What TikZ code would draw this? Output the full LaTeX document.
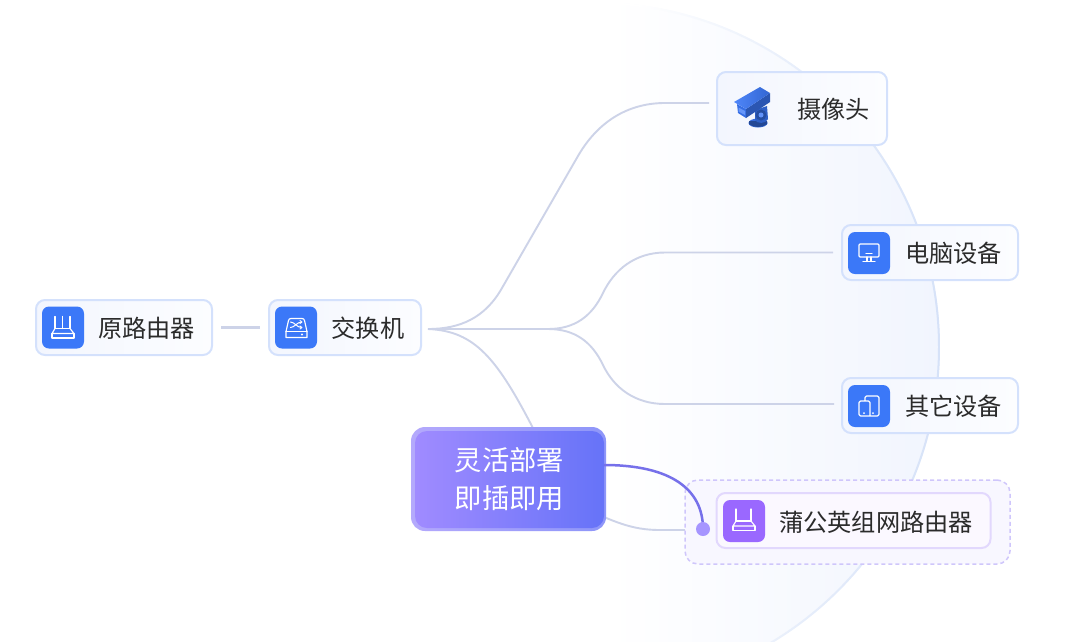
\documentclass[tikz,border=0pt]{standalone}
\usepackage{fontspec}
\setmainfont{Noto Sans CJK SC}
\definecolor{bgend}{HTML}{F1F5FE}
\definecolor{ringc}{HTML}{D6E2F8}
\definecolor{boxl}{HTML}{F3F6FE}
\definecolor{boxr}{HTML}{FCFDFF}
\definecolor{boxb}{HTML}{D4E1FC}
\definecolor{iconblue}{HTML}{3B78F8}
\definecolor{iconpurple}{HTML}{9A68FF}
\definecolor{linec}{HTML}{CDD3E8}
\definecolor{txt}{HTML}{2B2B2B}
\definecolor{gl}{HTML}{A08BFF}
\definecolor{gr}{HTML}{6673F8}
\definecolor{gb}{HTML}{B4A9FC}
\definecolor{gbr}{HTML}{8E96F9}
\definecolor{purpline}{HTML}{7670EA}
\definecolor{dotc}{HTML}{A695FF}
\definecolor{dashc}{HTML}{CFC6FB}
\definecolor{dashf}{HTML}{F8F7FF}
\definecolor{pbb}{HTML}{E2D8FD}
\definecolor{pbf}{HTML}{FBF8FF}
\pgfdeclarehorizontalshading{discshade}{100bp}{color(0bp)=(white); color(25bp)=(white); color(51bp)=(white); color(75bp)=(bgend); color(100bp)=(bgend)}
\pgfdeclarehorizontalshading{ringshade}{100bp}{color(0bp)=(white); color(25bp)=(white); color(53bp)=(white); color(64bp)=(ringc!55!white); color(75bp)=(ringc); color(100bp)=(ringc)}
\tikzset{
  devbox/.style={rounded corners=9pt,draw=boxb,line width=2pt,left color=boxl,right color=boxr,inner sep=0pt},
  iconbox/.style={rounded corners=7pt,inner sep=0pt,minimum width=42pt,minimum height=42pt},
  lbl/.style={inner sep=0pt,text=txt,font=\fontsize{24.2}{30}\selectfont},
  conn/.style={draw=linec,line width=1.9pt},
  ic/.style={draw=white,line width=1.15pt,line join=round,line cap=round},
}
\newcommand{\routericon}[2]{%
  \begin{scope}[shift={(#1,#2)}]
    \draw[ic] (-8,-11) -- (-8,1) -- (7,1) -- (7,-11);
    \draw[ic] (-8,1) -- (-11,6) -- (11,6) -- (7,1);
    \draw[ic] (-11,6) -- (-11,10.5) -- (11,10.5) -- (11,6);
  \end{scope}}
\begin{document}
\begin{tikzpicture}[x=1pt,y=-1pt]
\useasboundingbox (0,0) rectangle (1080,641);
\coordinate (bgc) at (595,347);
% background disc
\begin{scope}
  \clip (0,0) rectangle (1080,641);
  \clip (bgc) circle (345);
  \shade[shading=discshade] (250,0) rectangle (940,700);
  \begin{scope}[even odd rule]
    \clip (bgc) circle (345) (bgc) circle (343);
    \shade[shading=ringshade] (250,0) rectangle (940,700);
  \end{scope}
\end{scope}
% named points
\coordinate (hub) at (428,329);
\coordinate (fork) at (548,329);
\coordinate (camin) at (709,103);
\coordinate (otherin) at (834,404);
\coordinate (flexout) at (604,465);
\coordinate (flexlow) at (604,517);
\coordinate (grpin) at (685,530);
\coordinate (dotpt) at (703,529);
% nodes
\node[devbox,minimum width=176pt,minimum height=55pt] (router) at (124,327.5) {};
\node[devbox,minimum width=152pt,minimum height=55pt] (sw) at (345,327.5) {};
\node[devbox,minimum width=170pt,minimum height=73pt] (cam) at (802,108.5) {};
\node[devbox,minimum width=176pt,minimum height=55pt] (pc) at (930,252.5) {};
\node[devbox,minimum width=176pt,minimum height=55pt] (other) at (930,405.5) {};
% connectors
\draw[conn,line width=2.3pt,shorten <=8pt,shorten >=8pt] (router.east) -- (sw.west);
\draw[conn] (hub) .. controls (460,329) and (485,318) .. (502,288) -- (578,156) .. controls (600,118) and (632,103) .. (665,103) -- (camin);
\draw[conn] (hub) -- (fork);
\draw[conn,shorten >=8pt] (fork) .. controls (575,329) and (592,316) .. (603,293) .. controls (614,270) and (635,252.5) .. (665,252.5) -- (pc.west);
\draw[conn] (fork) .. controls (575,329) and (592,342) .. (603,365) .. controls (614,388) and (635,404) .. (665,404) -- (otherin);
\draw[conn] (hub) .. controls (475,331) and (497,358) .. (535,432);
\draw[conn] (flexlow) .. controls (625,526) and (640,530) .. (660,530) -- (grpin);
% group
\node[rounded corners=13pt,draw=dashc,fill=dashf,line width=1.5pt,dash pattern=on 4pt off 3pt,minimum width=325pt,minimum height=84pt,inner sep=0pt] (grp) at (847.5,522) {};
\node[rounded corners=9pt,draw=pbb,fill=pbf,line width=2pt,minimum width=274pt,minimum height=55pt,inner sep=0pt] (pgy) at (853.5,520.5) {};
% centre box
\node[rounded corners=14pt,left color=gb,right color=gbr,minimum width=195pt,minimum height=104pt,inner sep=0pt] (flexb) at (508.5,479) {};
\node[rounded corners=12pt,left color=gl,right color=gr,minimum width=189pt,minimum height=97pt,inner sep=0pt,align=center,text=white,font=\fontsize{27.3}{38}\selectfont] (flex) at (509.5,479.5) {灵活部署\\即插即用};
\draw[draw=purpline,line width=2.5pt] (flexout) .. controls (672,465) and (703,490) .. (dotpt);
\fill[dotc] (dotpt) circle (7);
% icon squares
\node[iconbox,fill=iconblue] (ir) at (63,327.5) {};
\node[iconbox,fill=iconblue] (is) at (296,327.5) {};
\node[iconbox,fill=iconblue] (ip) at (869,253) {};
\node[iconbox,fill=iconblue] (io) at (869,406) {};
\node[iconbox,fill=iconpurple] (ig) at (744,521) {};
% router icons
\routericon{63}{327.5}
\draw[ic] (62.5,316.5) -- (62.5,328.5);
\routericon{744}{520}
% switch icon
\draw[ic] (286,331.5) -- (288.5,320.5) .. controls (288.8,319.2) and (289.5,318.5) .. (291,318.5) -- (302,318.5) .. controls (303.5,318.5) and (304.2,319.2) .. (304.5,320.5) -- (307,331.5) -- (307,337.5) -- (286,337.5) -- cycle;
\draw[ic] (286,331.5) -- (307,331.5);
\draw[ic,line width=1pt] (290.5,322) .. controls (294.5,322) and (297,327.5) .. (301.5,327.5);
\draw[ic,line width=1pt] (290.5,327.5) .. controls (294.5,327.5) and (297,322) .. (301.5,322);
\draw[ic,line width=.9pt] (300,320.5) -- (302,322) -- (300,323.5) (300,326) -- (302,327.5) -- (300,329);
\fill[white] (302,334.5) circle (1.1);
% monitor icon
\draw[ic,rounded corners=1pt] (859,244) rectangle (879,257);
\draw[ic] (867,257) -- (867,261.5) (871,257) -- (871,261.5) (863,261.5) -- (875,261.5);
\draw[ic] (866,253.5) -- (872,253.5);
% tablets icon
\draw[ic,rounded corners=1.5pt] (865,401) -- (865,396) -- (879,396) -- (879,416) -- (859,416) -- (859,401) -- (870,401) -- (870,416);
\fill[white] (864,413) circle (1) (873,413) circle (1);
% camera
\fill[black!12!iconblue] (758,123) ellipse (9.5 and 4.5);
\fill[iconblue!60!black] (749,121) -- (767,121) -- (767,124) .. controls (763,128) and (753,128) .. (749,124) -- cycle;
\fill[black!20!iconblue] (755,110) -- (767,106) -- (768,119) .. controls (766,124) and (757,124) .. (755,120) -- cycle;
\fill[iconblue!65!black] (761,115) circle (5.5);
\fill[iconblue!80!white] (761,115) circle (2.5);
\fill[black!8!iconblue] (737,104) -- (746,109) -- (746,118) -- (738,113) -- cycle;
\fill[white!22!iconblue] (738.5,107.5) -- (745,111) -- (745,115) -- (738.5,111.5) -- cycle;
\fill[black!28!iconblue] (746,109) -- (770,93) -- (770,102) -- (746,118) -- cycle;
\shade[left color=iconblue!90!white,right color=iconblue!85!black] (734,102) -- (760,87) -- (770,93) -- (746,109) -- cycle;
% labels
\node[lbl] (t1) at (146.5,328) {原路由器};
\node[lbl] (t2) at (368,328) {交换机};
\node[lbl] (t3) at (833.5,109) {摄像头};
\node[lbl] (t4) at (953.5,253) {电脑设备};
\node[lbl] (t5) at (953.5,406) {其它设备};
\node[lbl] (t6) at (876,522) {蒲公英组网路由器};
\end{tikzpicture}
\end{document}
